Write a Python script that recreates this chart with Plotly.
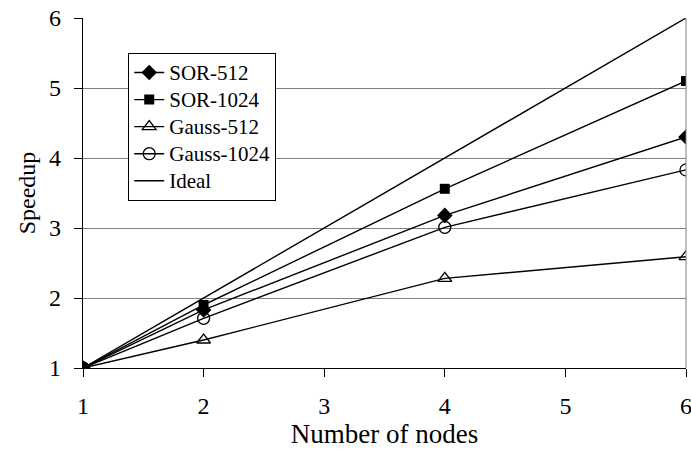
import plotly.graph_objects as go

# Speedup measurements per node count
nodes = [1, 2, 4, 6]
sor_512 = [1.0, 1.83, 3.18, 4.30]
sor_1024 = [1.0, 1.90, 3.56, 5.10]
gauss_512 = [1.0, 1.40, 2.28, 2.59]
gauss_1024 = [1.0, 1.71, 3.01, 3.83]
ideal = [1, 2, 4, 6]

series = [
    ("SOR-512", sor_512, dict(symbol="diamond", size=12, color="black")),
    ("SOR-1024", sor_1024, dict(symbol="square", size=10, color="black")),
    ("Gauss-512", gauss_512, dict(symbol="triangle-up-open", size=12, color="black",
                                  line=dict(width=1.3, color="black"))),
    ("Gauss-1024", gauss_1024, dict(symbol="circle-open", size=12, color="black",
                                    line=dict(width=1.3, color="black"))),
]

FONT = "Liberation Serif"
# legend rows are spaced from the legend font size; the label itself is a bit larger
LEGEND_LABEL = '<span style="font-size:21px">{}</span>'

fig = go.Figure()
for name, vals, marker in series:
    fig.add_trace(go.Scatter(
        x=nodes, y=vals, name=LEGEND_LABEL.format(name), mode="lines+markers",
        line=dict(color="black", width=1.4), marker=marker,
    ))
fig.add_trace(go.Scatter(
    x=nodes, y=ideal, name=LEGEND_LABEL.format("Ideal"), mode="lines",
    line=dict(color="black", width=1.4),
))

fig.update_layout(
    width=691, height=456,
    margin=dict(l=83, r=5, t=18, b=88),
    paper_bgcolor="white", plot_bgcolor="white",
    font=dict(family=FONT, size=24, color="black"),
    showlegend=True,
    legend=dict(
        x=0.075, y=0.9, xanchor="left", yanchor="top",
        bgcolor="white", bordercolor="black", borderwidth=1,
        font=dict(family=FONT, size=18.5, color="black"),
        tracegroupgap=0, itemwidth=30,
    ),
    xaxis=dict(
        range=[1, 6], tickvals=[1, 2, 3, 4, 5, 6],
        showgrid=False, zeroline=False, automargin=False,
        showline=True, linecolor="black", linewidth=1.2,
        ticks="outside", ticklen=8, tickcolor="black",
        tickfont=dict(family=FONT, size=24, color="black"),
        ticklabelstandoff=8, ticklabeloverflow="allow",
        title=dict(text="Number of nodes", standoff=5,
                   font=dict(family=FONT, size=27, color="black")),
    ),
    yaxis=dict(
        range=[1, 6], tickvals=[1, 2, 3, 4, 5, 6],
        showgrid=True, gridcolor="#808080", gridwidth=1,
        zeroline=False, automargin=False,
        showline=True, linecolor="black", linewidth=1.2,
        ticks="outside", ticklen=8, tickcolor="black",
        tickfont=dict(family=FONT, size=24, color="black"),
        ticklabelstandoff=8, ticklabeloverflow="allow",
        title=dict(text="Speedup", standoff=6,
                   font=dict(family=FONT, size=24, color="black")),
    ),
)
# right frame edge of the plot area
fig.add_shape(type="line", xref="paper", yref="paper", x0=1, x1=1, y0=0, y1=1,
              line=dict(color="#808080", width=1))

fig.write_html("out.html")
